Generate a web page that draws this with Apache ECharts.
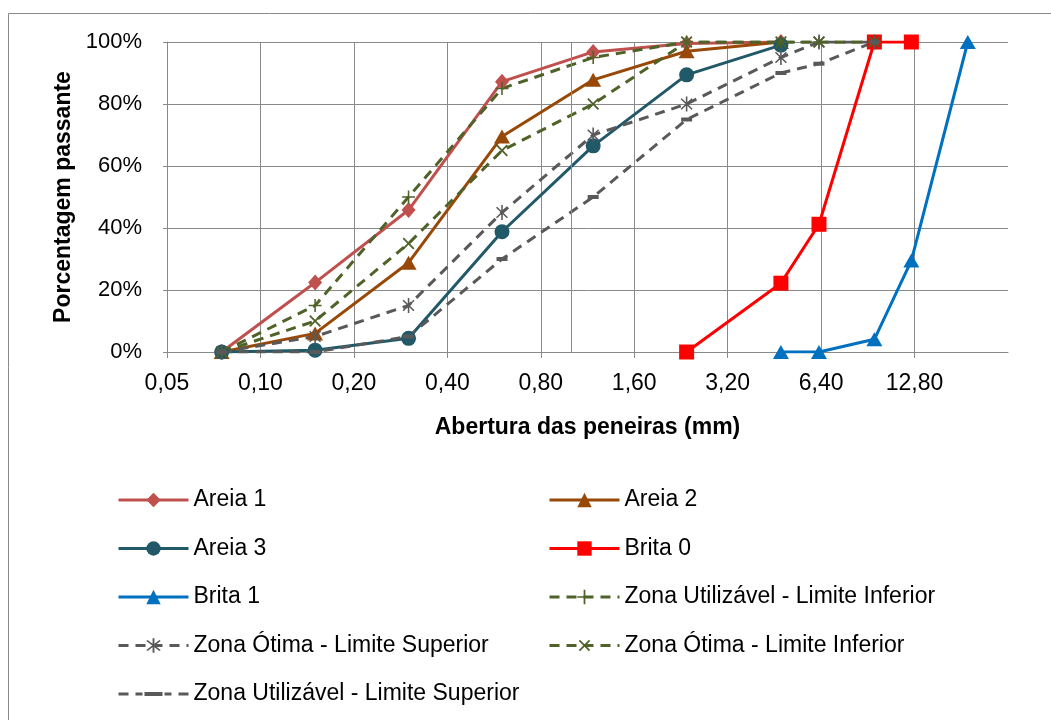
<!DOCTYPE html>
<html>
<head>
<meta charset="utf-8">
<script src="https://cdn.jsdelivr.net/npm/echarts@6/dist/echarts.min.js"></script>
<style>
html,body{margin:0;padding:0;background:#fff;}
#chart{width:1051px;height:720px;}
</style>
</head>
<body>
<div id="chart"></div>
<script>
// ---- data ----
const BASE_MM = 0.05;          // first tick of the log-2 axis (mm)
const REF_LINE_MM = 1.0;       // vertical reference line (mm)
const sandX = [0.075, 0.15, 0.3, 0.6, 1.18, 2.36, 4.75];
const areia1 = [0, 22.4, 45.8, 87.2, 96.8, 99.5, 100];
const areia2 = [0, 6, 28.8, 69.5, 87.8, 97, 100];
const areia3 = [0, 0.6, 4.4, 38.8, 66.5, 89.4, 99];
const brita0X = [2.36, 4.75, 6.3, 9.5, 12.5];
const brita0 = [0, 22.2, 41.2, 100, 100];
const brita1X = [4.75, 6.3, 9.5, 12.5, 19];
const brita1 = [0, 0, 4.1, 29.5, 100];
const zoneX = [0.075, 0.15, 0.3, 0.6, 1.18, 2.36, 4.75, 6.3, 9.5];
const utilInf = [0, 15, 50, 85, 95, 100, 100, 100, 100];
const otimaSup = [0, 5, 15, 45, 70, 80, 95, 100, 100];
const otimaInf = [0, 10, 35, 65, 80, 100, 100, 100, 100];
const utilSup = [0, 0, 5, 30, 50, 75, 90, 93, 100];
const yTicks = [0, 20, 40, 60, 80, 100];

const names = {
  a1: 'Areia 1', a2: 'Areia 2', a3: 'Areia 3', b0: 'Brita 0', b1: 'Brita 1',
  ui: 'Zona Utilizável - Limite Inferior', os: 'Zona Ótima - Limite Superior',
  oi: 'Zona Ótima - Limite Inferior', us: 'Zona Utilizável - Limite Superior'
};

// ---- build ----
const FONT = '"Liberation Sans", Arial, sans-serif';
const pts = (xs, ys) => xs.map((x, i) => [x / BASE_MM, ys[i]]);
const PLUS = 'path://M-1.2,-10 L1.2,-10 L1.2,-1.2 L10,-1.2 L10,1.2 L1.2,1.2 L1.2,10 L-1.2,10 L-1.2,1.2 L-10,1.2 L-10,-1.2 L-1.2,-1.2 Z';
const STAR = 'path://M-1,-10 L1,-10 L1,10 L-1,10 Z M-6.3,-7.7 L7.7,6.3 L6.3,7.7 L-7.7,-6.3 Z M-7.7,6.3 L6.3,-7.7 L7.7,-6.3 L-6.3,7.7 Z';
const DASH_LEGEND_ICON = 'path://M0,0.5 L10,0.5 L10,3.5 L0,3.5 Z M17,0.5 L24,0.5 L24,3.5 L17,3.5 Z M26,0 L44,0 L44,4 L26,4 Z M46,0.5 L53,0.5 L53,3.5 L46,3.5 Z M60,0.5 L70,0.5 L70,3.5 L60,3.5 Z';
const GREEN = '#4F6228', GRAY = '#595959';

function solid(name, data, color, symbol, size) {
  return { name, type: 'line', data, symbol, symbolSize: size, showSymbol: true,
    lineStyle: { color, width: 3 }, itemStyle: { color }, emphasis: { disabled: true } };
}
function dashed(name, data, color, symbol, size, rot) {
  return { name, type: 'line', data, symbol, symbolSize: size, symbolRotate: rot || 0,
    lineStyle: { color, width: 3, type: [10, 7] }, itemStyle: { color }, emphasis: { disabled: true } };
}

const series = [
  { name: 'ref', type: 'line', data: [], z: 1, silent: true,
    markLine: { silent: true, symbol: 'none', label: { show: false },
      lineStyle: { color: '#8a8a8a', width: 1, type: 'solid' },
      data: [{ xAxis: REF_LINE_MM / BASE_MM }] } },
  solid(names.a1, pts(sandX, areia1), '#C0504D', 'diamond', [14, 16]),
  solid(names.a2, pts(sandX, areia2), '#984807', 'triangle', [16, 14]),
  solid(names.a3, pts(sandX, areia3), '#215968', 'circle', 15),
  solid(names.b0, pts(brita0X, brita0), '#FF0000', 'rect', 15),
  solid(names.b1, pts(brita1X, brita1), '#0070C0', 'triangle', [16, 14]),
  dashed(names.ui, pts(zoneX, utilInf), GREEN, PLUS, 13),
  dashed(names.os, pts(zoneX, otimaSup), GRAY, STAR, [12, 15]),
  dashed(names.oi, pts(zoneX, otimaInf), GREEN, PLUS, 15, 45),
  dashed(names.us, pts(zoneX, utilSup), GRAY, 'rect', [11, 4])
];

const legendCommon = {
  orient: 'vertical', padding: 0, itemWidth: 70, itemHeight: 18, itemGap: 24.5,
  lineStyle: { width: 3 }, symbolKeepAspect: true,
  textStyle: { fontFamily: FONT, fontSize: 23, color: '#000', lineHeight: 24 },
  selectedMode: false
};

const chart = echarts.init(document.getElementById('chart'), null, { renderer: 'canvas' });
chart.setOption({
  animation: false,
  backgroundColor: '#fff',
  textStyle: { fontFamily: FONT },
  graphic: [{ type: 'rect', silent: true, z: 0,
    shape: { x: 8.5, y: 13.5, width: 1200, height: 900 },
    style: { fill: 'none', stroke: '#898989', lineWidth: 1 } }],
  grid: { left: 167, right: 43, top: 42, bottom: 368 },
  xAxis: {
    type: 'log', logBase: 2, min: 1, max: 512,
    name: 'Abertura das peneiras (mm)', nameLocation: 'middle', nameGap: 64,
    nameTextStyle: { fontFamily: FONT, fontSize: 23, fontWeight: 'bold', color: '#000' },
    axisLine: { show: true, lineStyle: { color: '#898989', width: 1 } },
    axisTick: { show: true, length: 6, lineStyle: { color: '#898989' } },
    axisLabel: { fontFamily: FONT, fontSize: 23, color: '#000', margin: 20, showMaxLabel: false,
      formatter: v => (v * BASE_MM).toFixed(2).replace('.', ',') },
    splitLine: { show: true, showMaxLine: false, lineStyle: { color: '#898989', width: 1 } }
  },
  yAxis: {
    type: 'value', min: yTicks[0], max: yTicks[yTicks.length - 1], interval: 20,
    name: 'Porcentagem passante', nameLocation: 'middle', nameGap: 92,
    nameTextStyle: { fontFamily: FONT, fontSize: 23, fontWeight: 'bold', color: '#000' },
    axisLine: { show: true, lineStyle: { color: '#898989', width: 1 } },
    axisTick: { show: true, length: 4, lineStyle: { color: '#898989' } },
    axisLabel: { fontFamily: FONT, fontSize: 22, color: '#000', margin: 25, formatter: '{value}%' },
    splitLine: { show: true, lineStyle: { color: '#898989', width: 1 } }
  },
  legend: [
    Object.assign({ left: 117, top: 488, data: [names.a1, names.a3, names.b1, names.os,
      { name: names.us, icon: DASH_LEGEND_ICON, itemStyle: { color: GRAY } }] }, legendCommon),
    Object.assign({ left: 548, top: 488, data: [names.a2, names.b0, names.ui, names.oi] }, legendCommon)
  ],
  series
});
</script>
</body>
</html>
